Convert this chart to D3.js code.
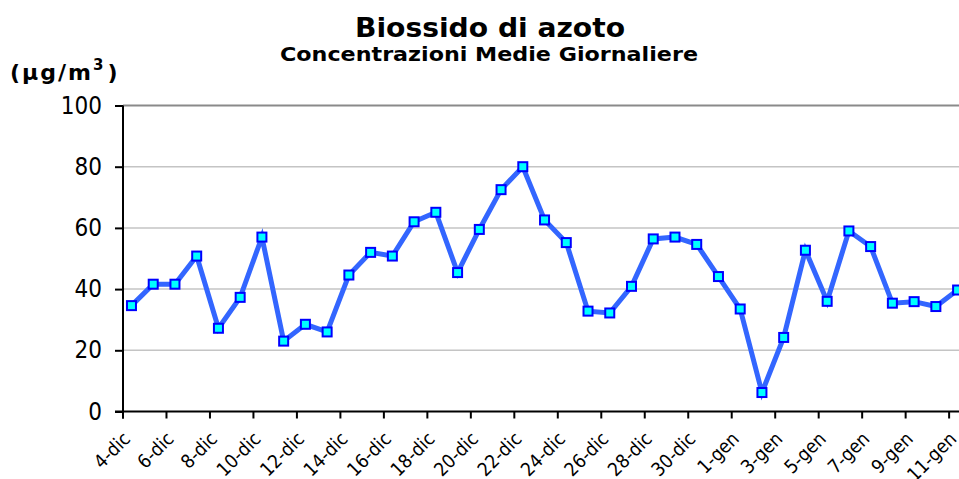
<!DOCTYPE html>
<html>
<head>
<meta charset="utf-8">
<script src="https://cdn.jsdelivr.net/npm/d3@7"></script>
<style>
  html, body { margin: 0; padding: 0; background: #fff; }
  svg { display: block; }
</style>
</head>
<body>
<div id="chart"></div>
<script>
// ---- DATA ----
const categories = [
  "4-dic","5-dic","6-dic","7-dic","8-dic","9-dic","10-dic","11-dic","12-dic","13-dic",
  "14-dic","15-dic","16-dic","17-dic","18-dic","19-dic","20-dic","21-dic","22-dic","23-dic",
  "24-dic","25-dic","26-dic","27-dic","28-dic","29-dic","30-dic","31-dic",
  "1-gen","2-gen","3-gen","4-gen","5-gen","6-gen","7-gen","8-gen","9-gen","10-gen","11-gen"
];
const no2Values = [
  34.6, 41.6, 41.6, 50.8, 27.2, 37.3, 57.0, 23.0, 28.5, 26.0,
  44.6, 52.0, 50.8, 62.0, 65.1, 45.4, 59.5, 72.5, 80.0, 62.6,
  55.2, 32.8, 32.2, 40.9, 56.4, 57.0, 54.6, 44.1,
  33.5, 6.2, 24.2, 52.7, 36.0, 59.0, 53.9, 35.4, 35.9, 34.3, 39.7
];
const yTicks = [0, 20, 40, 60, 80, 100];
const titleText = "Biossido di azoto";
const subtitleText = "Concentrazioni Medie Giornaliere";

// ---- LAYOUT ----
const W = 959, H = 479;
const plotLeft = 123, plotTop = 105.5, plotBottom = 411.5;
const step = 21.74;
const nSlots = 40;
const pointOffset = 0.39;
const condensed = "'DejaVu Sans Condensed', 'DejaVu Sans', sans-serif";
const wide = "'DejaVu Sans', Verdana, sans-serif";

const svg = d3.select("#chart").append("svg")
  .attr("width", W).attr("height", H)
  .style("font-family", condensed);

svg.append("rect").attr("width", W).attr("height", H).attr("fill", "#fff");

const x = d3.scaleLinear().domain([0, nSlots]).range([plotLeft, plotLeft + nSlots * step]);
const y = d3.scaleLinear().domain([0, 100]).range([plotBottom, plotTop]);

// gridlines
svg.append("g").selectAll("line").data(yTicks.filter(v => v > 0)).join("line")
  .attr("x1", plotLeft).attr("x2", W + 50)
  .attr("y1", d => y(d)).attr("y2", d => y(d))
  .attr("stroke", d => d === 100 ? "#8a8a8a" : "#c4c4c4")
  .attr("stroke-width", d => d === 100 ? 2 : 1.5);

// Y axis
const yAxis = d3.axisLeft(y).tickValues(yTicks).tickSize(8).tickPadding(13);
const gy = svg.append("g").attr("transform", `translate(${plotLeft},0)`).call(yAxis);
gy.select(".domain").remove();
gy.selectAll(".tick line").attr("stroke", "#000").attr("stroke-width", 2);
gy.selectAll(".tick text").attr("font-size", 24).attr("fill", "#000")
  .style("font-family", condensed);
svg.append("line").attr("x1", plotLeft).attr("x2", plotLeft)
  .attr("y1", plotTop).attr("y2", plotBottom + 7)
  .attr("stroke", "#000").attr("stroke-width", 2);

// X axis
svg.append("line").attr("x1", plotLeft - 8).attr("x2", W + 50)
  .attr("y1", plotBottom).attr("y2", plotBottom)
  .attr("stroke", "#000").attr("stroke-width", 2);
const tickIdx = d3.range(0, nSlots, 2);
svg.append("g").selectAll("line").data(tickIdx).join("line")
  .attr("x1", d => x(d)).attr("x2", d => x(d))
  .attr("y1", plotBottom).attr("y2", plotBottom + 7)
  .attr("stroke", "#000").attr("stroke-width", 2);
svg.append("g").selectAll("text").data(tickIdx.filter(i => i < categories.length)).join("text")
  .attr("transform", d => `translate(${x(d + pointOffset)},${plotBottom + 28.5})rotate(-45)`)
  .attr("text-anchor", "end")
  .attr("font-size", 19)
  .attr("fill", "#000")
  .text(d => categories[d]);

// Line
const line = d3.line()
  .x((d, i) => x(i + pointOffset))
  .y(d => y(d));
svg.append("path").datum(no2Values)
  .attr("d", line)
  .attr("fill", "none")
  .attr("stroke", "#3366ff")
  .attr("stroke-width", 5)
  .attr("stroke-linejoin", "miter");

// Markers
const ms = 9;
svg.append("g").selectAll("rect").data(no2Values).join("rect")
  .attr("x", (d, i) => x(i + pointOffset) - ms / 2)
  .attr("y", d => y(d) - ms / 2)
  .attr("width", ms).attr("height", ms)
  .attr("fill", "#00ffff")
  .attr("stroke", "#0000ff")
  .attr("stroke-width", 2);

// Titles
svg.append("text").attr("x", 490).attr("y", 37)
  .attr("text-anchor", "middle").attr("font-size", 26).attr("font-weight", "bold")
  .style("font-family", wide)
  .attr("textLength", 270).attr("lengthAdjust", "spacingAndGlyphs")
  .attr("fill", "#000").text(titleText);
svg.append("text").attr("x", 489).attr("y", 61)
  .attr("text-anchor", "middle").attr("font-size", 19).attr("font-weight", "bold")
  .style("font-family", wide)
  .attr("textLength", 418).attr("lengthAdjust", "spacingAndGlyphs")
  .attr("fill", "#000").text(subtitleText);

const unit = svg.append("text").attr("x", 10).attr("y", 80)
  .attr("font-size", 22).attr("font-weight", "bold").attr("fill", "#000")
  .style("font-family", wide).attr("letter-spacing", 2);
unit.append("tspan").text("(\u03bcg/m");
unit.append("tspan").attr("font-size", 15).attr("dy", -10).text("3");
unit.append("tspan").attr("dy", 10).attr("dx", 2).text(")");
</script>
</body>
</html>
